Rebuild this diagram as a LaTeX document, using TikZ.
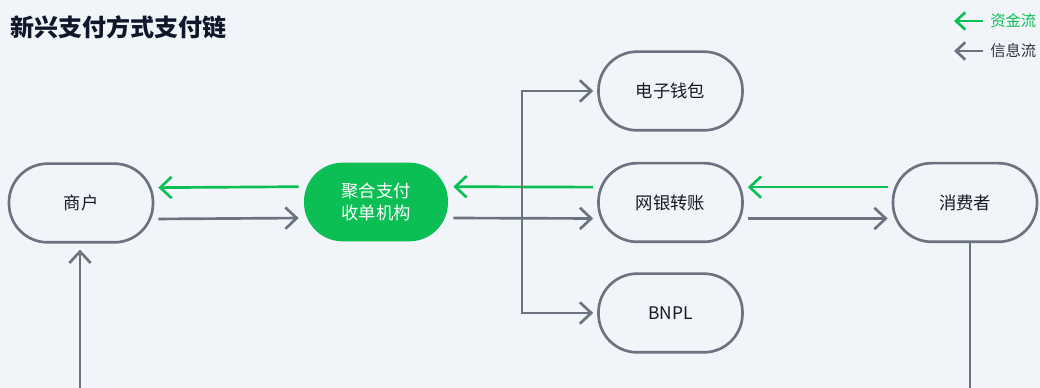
\documentclass[tikz,border=0pt]{standalone}
\usepackage{fontspec}
\setmainfont{Noto Sans CJK SC}
\usetikzlibrary{arrows.meta}
\definecolor{bg}{HTML}{F1F5F9}
\definecolor{moneyg}{HTML}{0CBF55}
\definecolor{lineg}{HTML}{6B7280}
\definecolor{txt}{HTML}{151A22}
\definecolor{titlec}{HTML}{0F172A}
\definecolor{legtxt}{HTML}{2D3440}
\begin{document}
\begin{tikzpicture}[x=0.75pt,y=-0.75pt,
  box/.style={draw=lineg, line width=2pt, rounded corners=29pt,
    minimum width=108pt, minimum height=59pt, inner sep=0pt,
    font=\fontsize{13}{17}\selectfont, text=txt, align=center},
  aggbox/.style={box, draw=none, fill=moneyg, text=white},
  money/.style={draw=moneyg, line width=2pt,
    -{Straight Barb[length=8.5pt,width=16pt]}, shorten >=3pt, shorten <=3pt},
  info/.style={draw=lineg, line width=2pt,
    -{Straight Barb[length=8.5pt,width=16pt]}, shorten >=3pt, shorten <=3pt},
  plain/.style={draw=lineg, line width=2pt},
  legmoney/.style={draw=moneyg, line width=2pt, -{Straight Barb[length=7pt,width=13pt]}},
  leginfo/.style={draw=lineg, line width=2pt, -{Straight Barb[length=7pt,width=13pt]}},
  legtext/.style={anchor=west, inner sep=0pt, font=\fontsize{11.5}{14}\selectfont}
]
\useasboundingbox (0,0) rectangle (1040,388);
\fill[bg] (0,0) rectangle (1040,388);

% title
\node[anchor=west, inner sep=0pt, text=titlec, font=\fontsize{18}{22}\selectfont\bfseries] (title) at (10,27) {新兴支付方式支付链};

% legend
\coordinate (lm1) at (983,21);
\coordinate (lm2) at (954,21);
\draw[legmoney] (lm1) -- (lm2);
\node[legtext, text=moneyg] (lmt) at (990,21) {资金流};
\coordinate (li1) at (983,51);
\coordinate (li2) at (954,51);
\draw[leginfo] (li1) -- (li2);
\node[legtext, text=legtxt] (lit) at (990,51) {信息流};

% nodes
\node[box] (shop) at (81,203) {商户};
\node[aggbox] (agg) at (376,202) {聚合支付\\收单机构};
\node[box] (wallet) at (670.5,91) {电子钱包};
\node[box] (bank) at (670.5,202.5) {网银转账};
\node[box] (bnpl) at (670.5,313) {BNPL};
\node[box] (cons) at (965,202.5) {消费者};

% flows shop <-> agg
\draw[money] ([yshift=11.5pt]agg.west) -- ([yshift=11.5pt]shop.east);
\draw[info] ([yshift=-12pt]shop.east) -- ([yshift=-12pt]agg.west);

% agg <-> bank
\draw[money] ([yshift=11.5pt]bank.west) -- ([yshift=11.5pt]agg.east);
\draw[info] ([yshift=-12pt]agg.east) -- ([yshift=-12pt]bank.west);

% branch
\coordinate (br) at (522,218);
\draw[info, shorten <=0pt] (br) |- (wallet.west);
\draw[info, shorten <=0pt] (br) |- (bnpl.west);

% bank <-> consumer
\draw[money] ([yshift=11.5pt]cons.west) -- ([yshift=11.5pt]bank.east);
\draw[info] ([yshift=-12pt]bank.east) -- ([yshift=-12pt]cons.west);

% vertical lines at bottom
\coordinate (shopin) at (80,388);
\draw[info, shorten >=4.5pt, shorten <=0pt] (shopin) -- (shopin |- shop.south);
\coordinate (consout) at (970,388);
\draw[plain] (consout |- cons.south) -- (consout);
\end{tikzpicture}
\end{document}
